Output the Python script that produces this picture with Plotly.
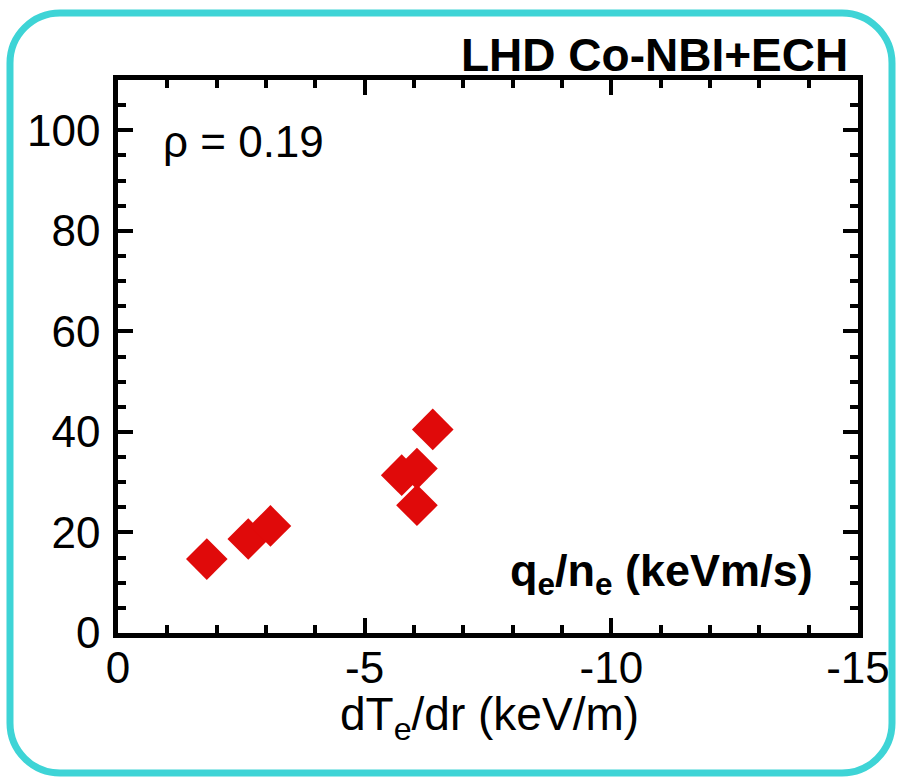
import plotly.graph_objects as go

# Electron temperature gradient (keV/m) and electron heat flux per density (keVm/s)
grad_te = [-1.80, -2.64, -3.09, -5.75, -6.06, -6.06, -6.38]
qe_over_ne = [14.7, 18.7, 21.3, 31.4, 32.7, 25.4, 40.5]

x_tick_vals = [0, -5, -10, -15]
x_tick_text = ["0", "-5", "-10", "-15"]
y_tick_vals = [0, 20, 40, 60, 80, 100]
y_tick_text = ["0", "20", "40", "60", "80", "100"]

FONT = "Liberation Sans, Arial, sans-serif"
W, H = 897, 777
L, R, T, B = 118, 858, 80, 633


def px(x, y):
    """Pixel position -> paper coordinates."""
    return (x - L) / (R - L), (B - y) / (B - T)


def rounded_rect(x0, y0, x1, y1, r, k=0.5523):
    def p(x, y):
        u, v = px(x, y)
        return f"{u:.5f},{v:.5f}"

    d = r * k
    return (
        f"M {p(x0 + r, y0)} L {p(x1 - r, y0)} "
        f"C {p(x1 - r + d, y0)} {p(x1, y0 + r - d)} {p(x1, y0 + r)} "
        f"L {p(x1, y1 - r)} "
        f"C {p(x1, y1 - r + d)} {p(x1 - r + d, y1)} {p(x1 - r, y1)} "
        f"L {p(x0 + r, y1)} "
        f"C {p(x0 + r - d, y1)} {p(x0, y1 - r + d)} {p(x0, y1 - r)} "
        f"L {p(x0, y0 + r)} "
        f"C {p(x0, y0 + r - d)} {p(x0 + r - d, y0)} {p(x0 + r, y0)} Z"
    )


fig = go.Figure()
fig.add_trace(
    go.Scatter(
        x=grad_te,
        y=qe_over_ne,
        mode="markers",
        marker=dict(symbol="diamond", size=32, color="rgb(224,10,10)", line=dict(width=0)),
        showlegend=False,
        cliponaxis=False,
    )
)

axis_common = dict(
    showline=True,
    linewidth=4.5,
    linecolor="black",
    mirror="ticks",
    ticks="inside",
    ticklen=15,
    tickwidth=4,
    tickcolor="black",
    showgrid=False,
    zeroline=False,
    tickmode="array",
    tickfont=dict(family=FONT, size=44, color="black"),
)

fig.update_xaxes(
    range=[0, -15],
    tickvals=x_tick_vals,
    ticktext=x_tick_text,
    ticklabelstandoff=-8,
    minor=dict(tickmode="linear", tick0=0, dtick=1, ticks="inside", ticklen=8,
               tickwidth=4, tickcolor="black", showgrid=False),
    **axis_common,
)
fig.update_yaxes(
    range=[0, 110],
    tickvals=y_tick_vals,
    ticktext=y_tick_text,
    ticklabelstandoff=4,
    minor=dict(tickmode="linear", tick0=0, dtick=5, ticks="inside", ticklen=8,
               tickwidth=4, tickcolor="black", showgrid=False),
    **axis_common,
)

ax, ay = px(850, 55)
rx, ry = px(161, 141)
qx, qy = px(815, 573)
tx, ty = px(489, 717)

fig.update_layout(
    width=W,
    height=H,
    margin=dict(l=L, r=W - R, t=T, b=H - B, autoexpand=False),
    plot_bgcolor="white",
    paper_bgcolor="white",
    font=dict(family=FONT, color="black"),
    annotations=[
        dict(text="<b>LHD Co-NBI+ECH</b>", x=ax, y=ay, xref="paper", yref="paper",
             xanchor="right", yanchor="middle", showarrow=False,
             font=dict(size=46, family=FONT, color="black")),
        dict(text="\u03c1 = 0.19", x=rx, y=ry, xref="paper", yref="paper",
             xanchor="left", yanchor="middle", showarrow=False,
             font=dict(size=44, family=FONT, color="black")),
        dict(text="<b>q<sub>e</sub>/n<sub>e</sub> (keVm/s)</b>", x=qx, y=qy,
             xref="paper", yref="paper", xanchor="right", yanchor="middle",
             showarrow=False, font=dict(size=45, family=FONT, color="black")),
        dict(text="dT<sub>e</sub>/dr (keV/m)", x=tx, y=ty, xref="paper", yref="paper",
             xanchor="center", yanchor="middle", showarrow=False,
             font=dict(size=46, family=FONT, color="black")),
    ],
    shapes=[
        dict(type="path", xref="paper", yref="paper",
             path=rounded_rect(10, 13, 892, 773, 50),
             line=dict(color="rgb(62,212,214)", width=7)),
    ],
)

fig.write_html("out.html")
